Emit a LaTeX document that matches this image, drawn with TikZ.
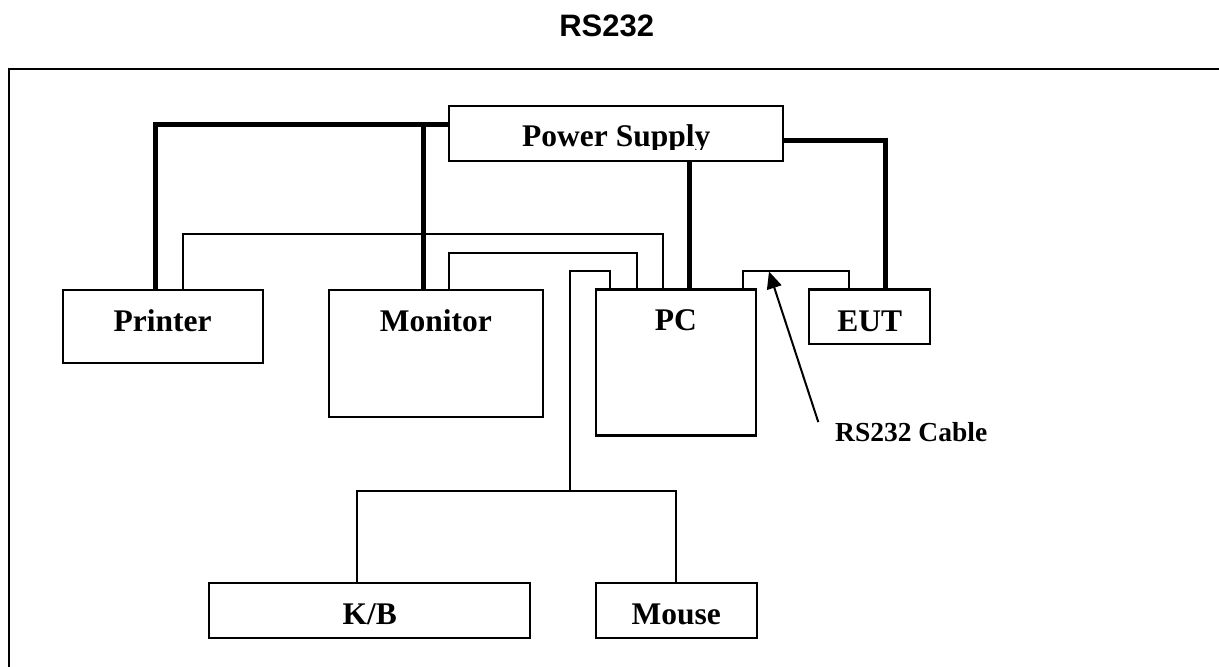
\documentclass[tikz,border=0pt]{standalone}
\usepackage{fontspec}
\setmainfont{Liberation Serif}
\setsansfont{Liberation Sans}
\usetikzlibrary{arrows.meta,calc}
\begin{document}
\begin{tikzpicture}[x=1pt,y=-1pt,
  box/.style={draw, rectangle, line width=2.2pt, inner sep=0pt, outer sep=0pt, anchor=north west},
  lab/.style={font=\bfseries\fontsize{31.5}{36}\selectfont, inner sep=0pt, anchor=base},
  pow/.style={line width=5pt},
  data/.style={line width=2pt},
  frame/.style={line width=2pt},
  arr/.style={line width=2pt, -{Triangle[length=17pt,width=15pt]}},
]
\useasboundingbox (0,0) rectangle (1219,667);

% title
\node[font=\sffamily\bfseries\fontsize{31}{36}\selectfont, inner sep=0pt, anchor=base] (title) at (606.7,36) {RS232};

% frame (top and left edges)
\coordinate (fr1) at (1219,69.3);
\coordinate (fr2) at (9.3,69.3);
\coordinate (fr3) at (9.3,667);
\draw[frame] (fr1) -- (fr2) -- (fr3);

% boxes
\node[box, minimum width=334pt, minimum height=54.7pt] (ps) at (449.3,106) {};
\node[box, minimum width=200pt, minimum height=73pt] (printer) at (62.7,289.7) {};
\node[box, minimum width=213.7pt, minimum height=127.6pt] (monitor) at (329,289.7) {};
\node[box, minimum width=160.3pt, minimum height=146pt] (pc) at (595.7,289.5) {};
\node[box, minimum width=120.7pt, minimum height=54.8pt] (eut) at (809.3,289.5) {};
\node[box, minimum width=320.7pt, minimum height=55.3pt] (kb) at (209.3,583) {};
\node[box, minimum width=160.7pt, minimum height=55.3pt] (mouse) at (596,583) {};

% labels
\begin{scope}
  \clip (450,107) rectangle (782,149.5);
  \node[lab] (ps-t) at ($(ps.north)+(0,40.5)$) {Power Supply};
\end{scope}
\node[lab] (printer-t) at ($(printer.north)+(0,42)$) {Printer};
\node[lab] (monitor-t) at ($(monitor.north)+(0,42)$) {Monitor};
\node[lab] (pc-t) at ($(pc.north)+(0,41.2)$) {PC};
\node[lab] (eut-t) at ($(eut.north)+(0,42.2)$) {EUT};
\node[lab] (kb-t) at ($(kb.north)+(0,41)$) {K/B};
\node[lab] (mouse-t) at ($(mouse.north)+(0,41)$) {Mouse};
\node[font=\bfseries\fontsize{27.5}{32}\selectfont, inner sep=0pt, anchor=base west] (cable) at (835,441) {RS232 Cable};

% power lines (thick)
\coordinate (pwl) at ([yshift=9pt]ps.west);
\draw[pow] (pwl) -| ([xshift=-6.9pt]printer.north);
\draw[pow] ([xshift=-12.5pt]monitor.north) |- (pwl);
\coordinate (pcp) at ([xshift=13.9pt]pc.north);
\draw[pow] (pcp) -- (pcp |- ps.south);
\draw[pow] ([yshift=-7pt]ps.east) -| ([xshift=15.6pt]eut.north);

% data cables (thin)
\draw[data] ([xshift=20pt]printer.north) -- ++(0,-55.7) -| ([xshift=-12.55pt]pc.north);
\draw[data] ([xshift=13.45pt]monitor.north) -- ++(0,-37) -| ([xshift=-39.15pt]pc.north);
\coordinate (kbj) at (570,491);
\draw[data] ([xshift=-65.85pt]pc.north) -- ++(0,-18.8) -| (kbj);
\draw[data] ([xshift=-12.95pt]kb.north) |- (kbj) -| (mouse.north);
\draw[data] ([xshift=67.45pt]pc.north) -- ++(0,-18.8) -| ([xshift=-20.35pt]eut.north);

% arrow to RS232 cable
\coordinate (tip) at (769,271.5);
\draw[arr] ([xshift=-16.7pt,yshift=9.5pt]cable.west) -- (tip);
\end{tikzpicture}
\end{document}
